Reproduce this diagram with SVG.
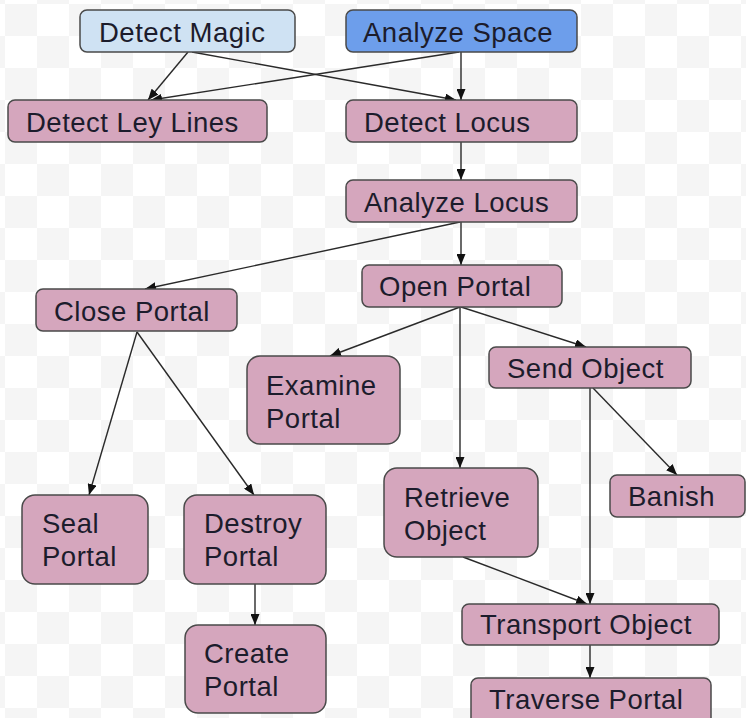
<svg xmlns="http://www.w3.org/2000/svg" width="746" height="718" viewBox="0 0 746 718">
<defs>
<pattern id="chk" x="5" y="4" width="64" height="64" patternUnits="userSpaceOnUse">
<rect width="64" height="64" fill="#ffffff"/>
<rect x="0" y="0" width="32" height="32" fill="#f5f5f5"/>
<rect x="32" y="32" width="32" height="32" fill="#f5f5f5"/>
</pattern>
<marker id="ah" viewBox="0 0 11 9" refX="11" refY="4.5" markerWidth="11" markerHeight="9" markerUnits="userSpaceOnUse" orient="auto">
<path d="M0,0 L11,4.5 L0,9 z" fill="#111"/>
</marker>
<style>
.n rect{fill:#d5a6bd;stroke:#4a4a4a;stroke-width:1.5}
.lb rect{fill:#cfe2f3}
.db rect{fill:#6d9eeb}
text{font-family:"Liberation Sans",Arial,sans-serif;font-size:27.5px;letter-spacing:0.5px;fill:#1c1c2c}
.e line{stroke:#2a2a2a;stroke-width:1.4;marker-end:url(#ah)}
</style>
</defs>
<rect width="746" height="718" fill="url(#chk)"/>
<g class="e">
<line x1="188" y1="52" x2="148" y2="100"/>
<line x1="192" y1="52" x2="456" y2="100"/>
<line x1="459" y1="52" x2="151" y2="100"/>
<line x1="461" y1="52" x2="461" y2="100"/>
<line x1="461" y1="142" x2="461" y2="180"/>
<line x1="460" y1="222" x2="145" y2="289"/>
<line x1="461" y1="222" x2="461" y2="265"/>
<line x1="460" y1="307" x2="330" y2="356"/>
<line x1="460" y1="307" x2="460" y2="468"/>
<line x1="461" y1="307" x2="586" y2="347"/>
<line x1="593" y1="388" x2="677" y2="475"/>
<line x1="590" y1="388" x2="590" y2="604"/>
<line x1="463" y1="557" x2="587" y2="604"/>
<line x1="590" y1="645" x2="590" y2="678"/>
<line x1="137" y1="332" x2="89" y2="495"/>
<line x1="137" y1="332" x2="254" y2="495"/>
<line x1="255" y1="584" x2="255" y2="625"/>
</g>
<g id="detect-magic" class="n lb"><rect x="80" y="10" width="215" height="42" rx="7"/><text x="99" y="42">Detect Magic</text></g>
<g id="analyze-space" class="n db"><rect x="346" y="10" width="231" height="42" rx="7"/><text x="363" y="42">Analyze Space</text></g>
<g id="detect-ley-lines" class="n"><rect x="8" y="100" width="259" height="42" rx="7"/><text x="26" y="132">Detect Ley Lines</text></g>
<g id="detect-locus" class="n"><rect x="346" y="100" width="231" height="42" rx="7"/><text x="364" y="132">Detect Locus</text></g>
<g id="analyze-locus" class="n"><rect x="346" y="180" width="231" height="42" rx="7"/><text x="364" y="212">Analyze Locus</text></g>
<g id="close-portal" class="n"><rect x="36" y="289" width="201" height="42" rx="7"/><text x="54" y="321">Close Portal</text></g>
<g id="open-portal" class="n"><rect x="362" y="265" width="200" height="42" rx="7"/><text x="379" y="296">Open Portal</text></g>
<g id="examine-portal" class="n"><rect x="247" y="356" width="153" height="88" rx="13"/><text x="266" y="395">Examine</text><text x="266" y="428">Portal</text></g>
<g id="send-object" class="n"><rect x="489" y="347" width="202" height="41" rx="7"/><text x="507" y="378">Send Object</text></g>
<g id="seal-portal" class="n"><rect x="22" y="495" width="126" height="89" rx="13"/><text x="42" y="533">Seal</text><text x="42" y="566">Portal</text></g>
<g id="destroy-portal" class="n"><rect x="184" y="495" width="142" height="89" rx="13"/><text x="204" y="533">Destroy</text><text x="204" y="566">Portal</text></g>
<g id="retrieve-object" class="n"><rect x="384" y="468" width="154" height="89" rx="13"/><text x="404" y="507">Retrieve</text><text x="404" y="540">Object</text></g>
<g id="banish" class="n"><rect x="610" y="475" width="135" height="42" rx="7"/><text x="628" y="506">Banish</text></g>
<g id="create-portal" class="n"><rect x="185" y="625" width="141" height="88" rx="13"/><text x="204" y="663">Create</text><text x="204" y="696">Portal</text></g>
<g id="transport-object" class="n"><rect x="462" y="604" width="257" height="41" rx="7"/><text x="480" y="634">Transport Object</text></g>
<g id="traverse-portal" class="n"><rect x="471" y="678" width="240" height="48" rx="7"/><text x="489" y="709">Traverse Portal</text></g>
</svg>
